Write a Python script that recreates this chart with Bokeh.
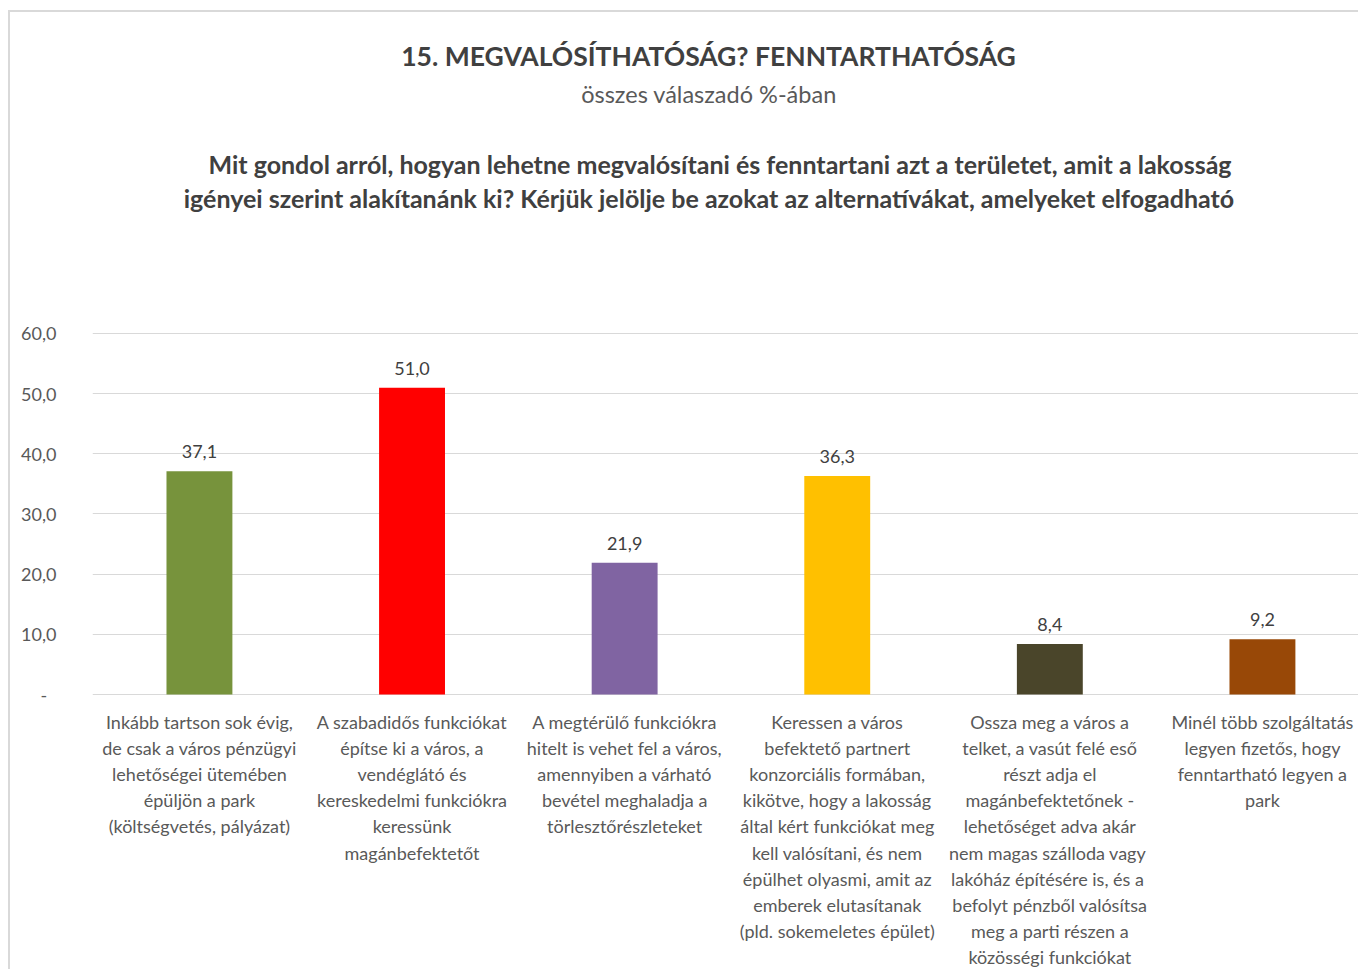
from bokeh.plotting import figure
from bokeh.models import Range1d, FixedTicker, ColumnDataSource
from bokeh.core.properties import value
from bokeh.embed import file_html
from bokeh.resources import INLINE

# ---------------- data ----------------
categories = [
    "Inkább tartson sok évig,\nde csak a város pénzügyi\nlehetőségei ütemében\népüljön a park\n(költségvetés, pályázat)",
    "A szabadidős funkciókat\népítse ki a város, a\nvendéglátó és\nkereskedelmi funkciókra\nkeressünk\nmagánbefektetőt",
    "A megtérülő funkciókra\nhitelt is vehet fel a város,\namennyiben a várható\nbevétel meghaladja a\ntörlesztőrészleteket",
    "Keressen a város\nbefektető partnert\nkonzorciális formában,\nkikötve, hogy a lakosság\náltal kért funkciókat meg\nkell valósítani, és nem\népülhet olyasmi, amit az\nemberek elutasítanak\n(pld. sokemeletes épület)",
    "Ossza meg a város a\ntelket, a vasút felé eső\nrészt adja el\nmagánbefektetőnek -\nlehetőséget adva akár\nnem magas  szálloda vagy\nlakóház építésére is,  és a\nbefolyt pénzből valósítsa\nmeg a parti részen a\nközösségi funkciókat",
    "Minél több szolgáltatás\nlegyen fizetős, hogy\nfenntartható legyen a\npark",
]
values = [37.1, 51.0, 21.9, 36.3, 8.4, 9.2]
colors = ["#77933C", "#FF0000", "#8064A2", "#FFC000", "#4A452A", "#984807"]
y_ticks = [0, 10, 20, 30, 40, 50, 60]
y_tick_labels = ["-  ", "10,0", "20,0", "30,0", "40,0", "50,0", "60,0"]

title_text = "15. MEGVALÓSÍTHATÓSÁG? FENNTARTHATÓSÁG"
subtitle_text = "összes válaszadó %-ában"
question_lines = [
    "Mit gondol arról, hogyan lehetne megvalósítani és fenntartani azt a területet, amit a lakosság",
    "igényei szerint alakítanánk  ki? Kérjük jelölje be azokat az alternatívákat, amelyeket elfogadható",
]

FONT = "Lato"

# ---------------- layout (picture px) ----------------
OX, OY = 10, 12           # content origin inside the chart-area border
W, H = 1360 - OX, 971 - OY
px_per_unit = 6.017
baseline_px = 694.0       # picture y of the value 0
frame_left_px = 92.0      # picture x of the plot frame's left edge
cat_w = 212.6
x0 = -0.503

left = int(frame_left_px - OX)
frame_w = W - left
y_top = (baseline_px - OY) / px_per_unit
y_bot = (baseline_px - OY - H) / px_per_unit


def px_to_x(px):
    return (px - frame_left_px) / cat_w + x0


def py_to_y(py):
    return (baseline_px - py) / px_per_unit


p = figure(width=W, height=H, output_backend="svg", toolbar_location=None,
           x_range=Range1d(x0, x0 + frame_w / cat_w),
           y_range=Range1d(y_bot, y_top),
           min_border_left=left, min_border_right=0, min_border_top=0, min_border_bottom=0)
p.margin = (OY - 2, 0, 0, OX - 2)
p.styles = {"border-top": "2px solid #D9D9D9", "border-left": "2px solid #D9D9D9"}
p.outline_line_color = None
p.xaxis.visible = False
p.xgrid.visible = False

p.yaxis.ticker = FixedTicker(ticks=y_ticks)
p.yaxis.major_label_overrides = {t: l for t, l in zip(y_ticks, y_tick_labels)}
p.yaxis.axis_line_color = None
p.yaxis.major_tick_line_color = None
p.yaxis.minor_tick_line_color = None
p.yaxis.major_label_standoff = 30
p.yaxis.major_label_text_font = FONT
p.yaxis.major_label_text_font_size = "18px"
p.yaxis.major_label_text_color = "#595959"
p.ygrid.ticker = FixedTicker(ticks=y_ticks)
p.ygrid.grid_line_color = "#D9D9D9"
p.ygrid.grid_line_width = 1

xs = list(range(len(values)))
src = ColumnDataSource(dict(
    x=xs, top=values, color=colors,
    label=[f"{v:.1f}".replace(".", ",") for v in values],
))

p.vbar(x="x", top="top", bottom=0, width=0.31, color="color", line_color=None, source=src)

p.text(x="x", y="top", text="label", source=src, text_align="center",
       text_baseline="bottom", y_offset=-13,
       text_font=value(FONT), text_font_size="18px", text_color="#404040")

# category labels, one glyph per line
lx, ly, lt, loff = [], [], [], []
line_step = 26.2
for i, cat in enumerate(categories):
    for k, line in enumerate(cat.split("\n")):
        lx.append(i)
        ly.append(0)
        lt.append(line)
        loff.append(27 + line_step * k)
lsrc = ColumnDataSource(dict(x=lx, y=ly, text=lt, off=loff))
p.text(x="x", y="y", text="text", y_offset="off", source=lsrc, text_align="center",
       text_baseline="middle",
       text_font=value(FONT), text_font_size="18px", text_color="#595959")

# titles
p.text(x=[px_to_x(708)], y=[py_to_y(55)], text=[title_text],
       text_align="center", text_baseline="middle", text_font=value(FONT),
       text_font_style="bold", text_font_size="26.5px", text_color="#404040")
p.text(x=[px_to_x(708.5)], y=[py_to_y(93)], text=[subtitle_text],
       text_align="center", text_baseline="middle", text_font=value(FONT),
       text_font_size="23.5px", text_color="#595959")
p.text(x=[px_to_x(719.5), px_to_x(711.5)], y=[py_to_y(163), py_to_y(197)],
       text=question_lines,
       text_align="center", text_baseline="middle", text_font=value(FONT),
       text_font_style="bold", text_font_size="25px", text_color="#404040")

open("out.html", "w").write(file_html(p, INLINE))
